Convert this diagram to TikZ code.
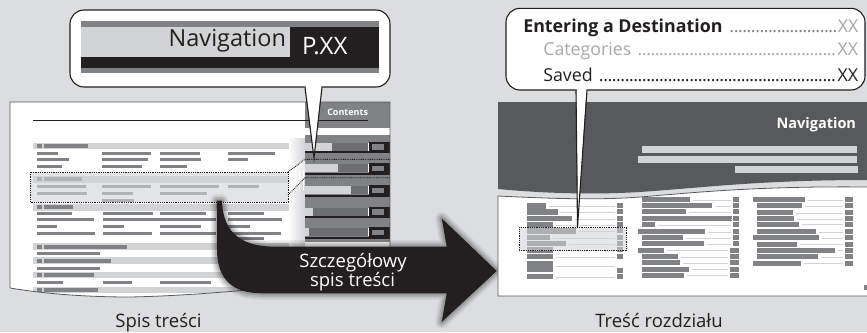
\documentclass[tikz,border=0pt]{standalone}
\usepackage{fontspec}
\setmainfont{Open Sans}
\definecolor{bgc}{RGB}{220,221,222}
\definecolor{lgc}{RGB}{209,211,212}
\definecolor{mgc}{RGB}{128,130,133}
\definecolor{dmg}{RGB}{109,110,113}
\definecolor{dgc}{RGB}{88,89,91}
\definecolor{blk}{RGB}{35,31,32}
\definecolor{pgc}{RGB}{167,169,172}
\newcommand\mydots{\leaders\hbox to 4.3pt{\hss.\hss}\hfill}
\tikzset{
  fs/.style={font=\fontsize{#1}{#1}\selectfont},
  fsb/.style={font=\fontsize{#1}{#1}\selectfont\bfseries},
  dotline/.style={dash pattern=on 0.9pt off 0.9pt, line width=0.9pt, draw=blk},
  callout/.style={fill=white, draw=blk, line width=1.1pt},
  txt/.style={inner sep=0pt, outer sep=0pt},
  arrowshape/.style={insert path={(216.7,200.5) -- (222,200.5) .. controls (223,236) and (245,246.7) .. (276,246.7) -- (446.7,246.7) -- (441.7,218.3) -- (496.7,271) -- (441.7,322) -- (446.7,293.3) -- (262,293.3) .. controls (233,293.3) and (217.3,280) .. (217,250) -- cycle}},
  lpage/.style={insert path={(10,102) -- (390,102) -- (390,280) -- (300,285) .. controls (230,292) and (180,296) .. (130,297) .. controls (80,297) and (40,293) .. (10,288) -- cycle}},
  rpage/.style={insert path={(498,196) .. controls (560,199) and (600,200) .. (640,197) .. controls (700,192) and (760,186) .. (867,187) -- (867,296) -- (498,296) -- cycle}}
}
\begin{document}
\begin{tikzpicture}[x=1pt,y=-1pt]
\useasboundingbox (0,0) rectangle (867,332);
\fill[bgc] (0,0) rectangle (867,332);

% ---------------- left page ----------------
\fill[white, lpage];
\begin{scope}
\clip[lpage];
\shade[left color=white, right color=lgc] (288,138) rectangle (305,250);
\foreach \ya/\e in {142.7/88,176/82,204/73,243.3/127,257.3/111,271.7/94,286.7/98}{
  \fill[lgc] (33,\ya) rectangle (289,\ya+6.7);
  \fill[mgc] (37,\ya+1.3) rectangle (42,\ya+5.4);
  \fill[mgc] (43.5,\ya+1.3) rectangle (\e,\ya+5.4);
}
\foreach \yy/\xa/\xb in {
  152.3/37/58, 152.3/102/151, 152.3/160/200, 152.3/228/275,
  158/37/69, 158/102/148, 158/160/201, 158/228/248,
  165.3/37/62, 165.3/102/142, 165.3/160/187,
  185/37/86, 185/102/151, 185/160/219, 185/228/259,
  191.7/37/87, 191.7/102/133, 191.7/160/207,
  199.3/102/134,
  212.3/37/72, 212.3/103/153, 212.3/160/206, 212.3/228/264,
  218.3/37/94, 218.3/103/216, 218.3/228/282,
  225/37/57, 225/103/124, 225/160/201, 225/228/250,
  231.7/37/95, 231.7/103/152, 231.7/160/216, 231.7/228/281,
  237/228/264,
  251.7/37/100, 266.7/37/100,
  280.7/37/63, 280.7/103/132, 280.7/160/211}{
  \fill[mgc] (\xa,\yy) rectangle (\xb,\yy+2.8);
}
% contents column
\fill[mgc] (305,102) rectangle (390,242);
\fill[white] (305,128) rectangle (390,135);
\foreach \yo/\L in {142.7/332,164/338,186/351,207.7/313,228/309}{
  \fill[lgc] (305,\yo) rectangle (\L,\yo+8);
  \fill[dmg] (\L,\yo) rectangle (368,\yo+8);
  \fill[white] (368,\yo) rectangle (369,\yo+8);
  \fill[blk] (369,\yo-1) rectangle (390,\yo+10);
  \fill[mgc] (372,\yo+1.5) rectangle (384,\yo+7);
  \fill[blk] (305,\yo+8.5) rectangle (390,\yo+10.5);
}
\end{scope}
\draw[dgc, line width=0.8pt, lpage];
\draw[blk, line width=0.9pt] (33,120.5) -- (368,120.5);
\node[txt, anchor=base east, fsb=9, text=white] (contents) at (368,115.5) {Contents};

% selection prism (left)
\fill[white, opacity=0.55] (288,172) -- (305,159.3) -- (305,177.7) -- (288,195) -- cycle;
\foreach \xx in {291,295,299,303}{\draw[white, line width=0.8pt] (\xx,170) -- (\xx,190);}
\fill[lgc, opacity=0.6] (30,172) rectangle (288,202);
\draw[dotline] (30,172) rectangle (288,202);
\draw[dotline] (288,172) -- (305,159.3) -- (390,159.3);
\draw[dotline] (288,195) -- (305,177.7) -- (390,177.7);

% ---------------- arrow ----------------
\foreach \w/\o in {13/0.05,10/0.07,7/0.09,4/0.12}{
  \draw[black, opacity=\o, line width=\w pt, line join=round, arrowshape];
}
\fill[blk, arrowshape];
\node[txt, anchor=base, fs=18.5, text=white] (sz1) at (353,267.3) {Szczegółowy};
\node[txt, anchor=base, fs=18.5, text=white] (sz2) at (352.5,286.7) {spis treści};

% ---------------- right page ----------------
\fill[dgc] (498,102) -- (867,102) -- (867,180) .. controls (760,180) and (700,188) .. (640,192) .. controls (590,195) and (540,193) .. (498,189) -- cycle;
\node[txt, anchor=base east, fsb=14.5, text=white] (navR) at (856,128.3) {Navigation};
\fill[lgc] (642,146) rectangle (857,152.7);
\fill[lgc] (638,156) rectangle (857,162.7);
\fill[lgc] (735,166) rectangle (858,172.7);

\fill[white, rpage];
\begin{scope}
\clip[rpage];
% column 1
\foreach \yy/\xe in {203.3/546,209.3/557.7,216/571.7,222.3/552.7,228.3/576,235/550,241/566,247.3/552.7,254/552.7,274/552.7}{
  \fill[mgc] (526.7,\yy) rectangle (\xe,\yy+5.2);
  \draw[lgc, line width=0.6pt] (\xe+3,\yy+2.8) -- (615,\yy+2.8);
  \fill[mgc] (617.3,\yy) rectangle (622.7,\yy+5);
}
\fill[mgc] (526.7,260.7) rectangle (552.7,272);
\draw[lgc, line width=0.6pt] (555.7,266.5) -- (615,266.5);
\fill[mgc] (617.3,268.3) rectangle (622.7,272.7);
% column 2
\foreach \yy/\xs/\xe/\bx in {197.3/641.7/690/733.3,203.3/641.7/711.7/733.3,209.3/641.7/686/733.3,216/641.7/731.7/733.3,222.3/641.7/655/733.3,229/637.7/705/733.3,235/641.7/682.7/733.3,241/641.7/704/733.3,247.7/637.7/664/730,254/641.7/677.7/730,260/641.7/680/730,266.7/641.7/689/730,272.7/641.7/684/730}{
  \fill[mgc] (\xs,\yy) rectangle (\xe,\yy+5);
  \draw[lgc, line width=0.6pt] (\xe+3,\yy+2.8) -- (\bx-2,\yy+2.8);
  \fill[mgc] (\bx,\yy) rectangle (739,\yy+5);
}
% column 3
\foreach \yy/\xs/\xe in {197.3/752.7/805,203.3/757.3/801.7,210/757.3/792.7,216/757.3/793.7,221.7/757.3/798.7,229/757.3/815.7,235/752.7/818.7,241.7/757.3/796.7,247.7/757.3/835,254.3/757.3/817.7,260.7/752.7/800.7}{
  \fill[mgc] (\xs,\yy) rectangle (\xe,\yy+5);
  \draw[lgc, line width=0.6pt] (\xe+3,\yy+2.8) -- (843,\yy+2.8);
  \fill[mgc] (845,\yy) rectangle (853.3,\yy+5);
}
\fill[mgc] (864,285) rectangle (867,290);
\end{scope}
\draw[dgc, line width=0.8pt] (867,187) .. controls (760,186) and (700,192) .. (640,197) .. controls (600,200) and (560,199) .. (498,196) -- (498,296) -- (867,296);
% selection box (right)
\fill[lgc, opacity=0.55] (519,227.3) rectangle (626.7,250.7);
\draw[dotline] (519,227.3) rectangle (626.7,250.7);

% ---------------- callouts ----------------
\draw[callout, rounded corners=14pt] (70,10) rectangle (390,87);
\fill[mgc] (81,21) rectangle (379,73.3);
\fill[lgc] (81,26.7) rectangle (290,56.7);
\fill[blk] (290,26.7) rectangle (379,68.3);
\fill[blk] (81,56.7) rectangle (379,68.3);
\node[txt, anchor=base east, fs=23.5, text=blk] (navL) at (286,46.7) {Navigation};
\node[txt, anchor=base west, fs=24, text=white] (pxx) at (302,54) {P.XX};
\fill[white] (305.6,86) -- (321.4,86) -- (314,156) -- cycle;
\draw[blk, line width=1.1pt, line join=miter] (305,87.5) -- (314,158) -- (322,87.5);

\draw[callout, rounded corners=14pt] (506,8.3) rectangle (865,90);
\node[txt, anchor=base west, fs=17.8, text=blk] (ent) at (523.3,32.3) {\makebox[335pt][l]{\textbf{Entering a Destination}\ \textcolor{mgc}{\mydots}\textcolor{pgc}{XX}}};
\node[txt, anchor=base west, fs=17.8, text=pgc] (cat) at (543.3,55) {\makebox[315pt][l]{Categories \mydots XX}};
\node[txt, anchor=base west, fs=17.8, text=blk] (sav) at (543.3,81.7) {\makebox[315pt][l]{Saved \mydots XX}};
\fill[white] (576.8,89) -- (586.4,89) -- (577.6,225) -- cycle;
\draw[blk, line width=1.1pt, line join=miter] (576,90.5) -- (577.5,227) -- (587,90.5);

% ---------------- captions ----------------
\node[txt, anchor=base, fs=18.5, text=blk] (capL) at (158.5,327.5) {Spis treści};
\node[txt, anchor=base, fs=18.5, text=blk] (capR) at (659,327.5) {Treść rozdziału};
\end{tikzpicture}
\end{document}
